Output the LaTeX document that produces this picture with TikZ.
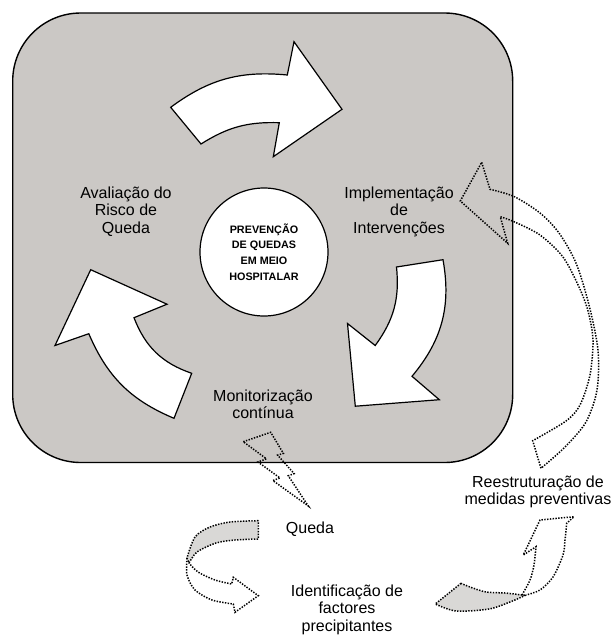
\documentclass[tikz,border=0pt]{standalone}
\usepackage{fontspec}
\setmainfont{Liberation Sans}
\definecolor{panelgray}{RGB}{203,200,197}
\definecolor{ribbongray}{RGB}{217,216,214}
\tikzset{
  panel/.style={fill=panelgray, draw=black, line width=1.4pt, rounded corners=68pt},
  cyclearrow/.style={fill=white, draw=black, line width=1.2pt},
  dotline/.style={draw=black, line width=1.5pt, dash pattern=on 1.4pt off 1.4pt},
  steplabel/.style={font=\fontsize{16}{17.5}\selectfont, align=center},
}
\begin{document}
\begin{tikzpicture}[x=1pt,y=1pt]
\useasboundingbox (0,0) rectangle (612,-638);
% painel cinzento
\draw[panel] (12.7,-13) rectangle (512.7,-462.5);
% circulo central
\node[circle, draw, fill=white, line width=1.2pt, minimum size=128pt, inner sep=0pt, align=center,
      font=\fontsize{10.8}{15.6}\selectfont\bfseries] (centro) at (264,-252)
      {PREVENÇÃO\\DE QUEDAS\\EM MEIO\\HOSPITALAR};
% setas do ciclo
\draw[cyclearrow] (279.3,-122.7) to[bend right=17] (201,-144) -- (170.7,-107.3)
  to[bend left=21] (287.3,-75) -- (294,-41.7) -- (342,-109.3) -- (273.3,-156.7) -- cycle;
\draw[cyclearrow] (375.2,-345.5) to[bend right=21] (396.5,-267) -- (443,-259.7)
  to[bend left=25] (412,-376.3) -- (439.3,-399.7) -- (355.3,-406.2) -- (347.5,-323.5) -- cycle;
\draw[cyclearrow] (134,-317.7) to[bend right=25] (191.7,-373.3) -- (174,-418.3)
  to[bend left=22] (88.8,-333.7) -- (55,-345.5) -- (90.7,-269.7) -- (167,-304.2) -- cycle;
% etapas
\node[steplabel] (avaliacao) at (126,-211.5) {Avaliação do\\Risco de\\Queda};
\node[steplabel] (implementacao) at (399,-211.5) {Implementação\\de\\Intervenções};
\node[steplabel] (monitorizacao) at (263,-404.5) {Monitorização\\contínua};
\node[steplabel] (queda) at (310,-529.6) {Queda};
\node[steplabel] (identificacao) at (347,-609.7) {Identificação de\\factores\\precipitantes};
\node[steplabel] (reestruturacao) at (538,-491.7) {Reestruturação de\\medidas preventivas};
% raio da queda
\draw[dotline] (243.3,-441.7) -- (270.7,-432.3) -- (283.4,-453.4) -- (277.6,-455.1) -- (294.1,-473.6)
  -- (288.3,-475.8) -- (308.3,-506) -- (272.8,-480.5) -- (280,-478) -- (258,-462) -- (266.4,-458.8) -- cycle;
% seta de reestruturacao
\draw[dotline] (481.7,-162.3) -- (490,-189.3)
  -- plot[smooth] coordinates {(490,-189.3) (514,-196.5) (540,-213) (559,-233) (576,-263) (589,-305)
     (598,-350) (597,-390) (586,-422) (565,-447) (541,-468.3)}
  -- (532.7,-440.7)
  -- plot[smooth] coordinates {(532.7,-440.7) (566,-421) (580,-405) (590,-375) (593,-340) (588,-311)
     (579,-287) (563,-257) (540,-235) (514,-221.7) (500.3,-216.7)}
  -- (507.7,-243.3) -- (460.3,-201) -- cycle;
% fita da queda
\filldraw[dotline, fill=ribbongray] plot[smooth] coordinates {(258.3,-520.7) (230,-522) (210,-527) (195,-537) (187,-558)}
  -- plot[smooth] coordinates {(189,-563) (197,-552) (216,-543) (235,-540) (258.3,-539)} -- cycle;
\draw[dotline] plot[smooth] coordinates {(187,-558) (187,-575) (195,-590) (212,-600) (233.3,-604)}
  -- (235,-612.3) -- (258.3,-595.7) -- (233.3,-577.3) -- (231.7,-584)
  -- plot[smooth] coordinates {(231.7,-584) (215,-580) (198,-572) (189,-563)};
% fita da identificacao
\filldraw[dotline, fill=ribbongray] (461,-583.3) -- (435.3,-604)
  -- plot[smooth] coordinates {(435.3,-604) (456,-611) (489,-609) (510,-602) (526,-595)}
  -- plot[smooth] coordinates {(522,-595) (505,-593) (486,-592) (470,-587) (461,-583.3)} -- cycle;
\draw[dotline] plot[smooth] coordinates {(522,-595) (530,-580) (534,-565) (536,-546.7)}
  -- (523.3,-555) -- (540,-520) -- (574,-516.7) -- (566.7,-523.3)
  -- plot[smooth] coordinates {(566.7,-523.3) (565,-540) (563,-555) (553,-577) (540,-590) (526,-595)};
\end{tikzpicture}
\end{document}
